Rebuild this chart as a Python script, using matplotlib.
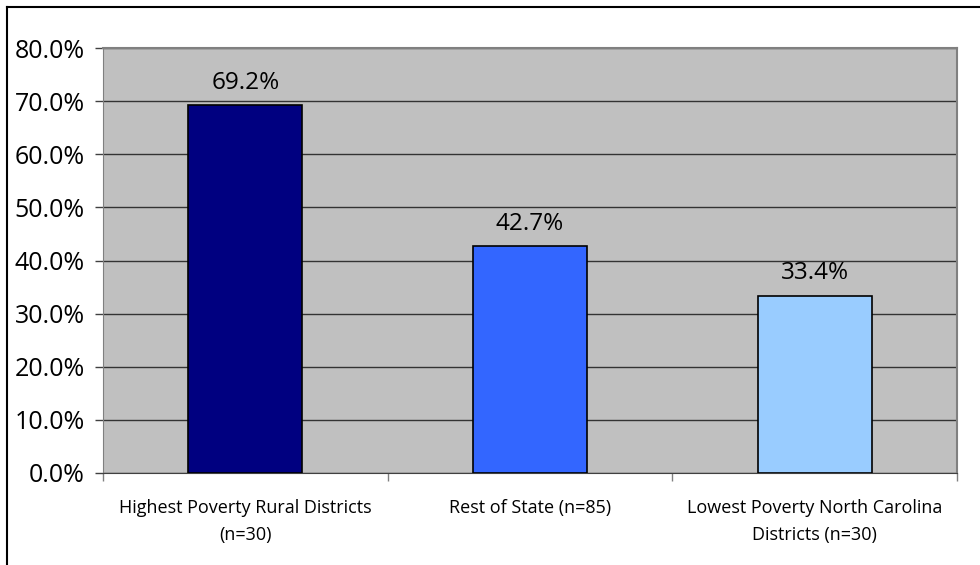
import matplotlib
matplotlib.use('Agg')
import matplotlib.pyplot as plt
from matplotlib.lines import Line2D
import numpy as np

# data
categories = ['Highest Poverty Rural Districts\n(n=30)',
              'Rest of State (n=85)',
              'Lowest Poverty North Carolina\nDistricts (n=30)']
values = [69.2, 42.7, 33.4]
bar_colors = ['#000080', '#3366FF', '#99CCFF']

plt.rcParams['font.family'] = ['Open Sans', 'DejaVu Sans']

fig = plt.figure(figsize=(9.8, 5.65), dpi=100)
ax = fig.add_axes([103 / 980, 1 - 473 / 565, 854 / 980, 425 / 565])
ax.set_facecolor('#C0C0C0')

x = np.arange(len(values))
ax.bar(x, values, width=0.4, color=bar_colors, edgecolor='black', linewidth=1.2, zorder=3)

# value labels
for xi, v in zip(x, values):
    ax.text(xi, v + 2.0, '%.1f%%' % v, ha='center', va='bottom', fontsize=17.5, color='black', zorder=4)

ax.set_xlim(-0.5, 2.5)
ax.set_ylim(0, 80)
ax.set_yticks(np.arange(0, 81, 10))
ax.set_yticklabels(['%.1f%%' % t for t in np.arange(0, 81, 10)], fontsize=18)
ax.yaxis.grid(True, color='#333333', linewidth=1, zorder=1)
ax.set_axisbelow(True)

# category labels + boundary ticks
ax.set_xticks(x)
ax.set_xticklabels(categories, fontsize=13, linespacing=1.6)
ax.tick_params(axis='x', length=0, pad=19)
ax.set_xticks([-0.5, 0.5, 1.5, 2.5], minor=True)
ax.tick_params(axis='x', which='minor', length=6, color='#808080', width=1)
ax.tick_params(axis='y', length=6, color='#404040', width=1, pad=7)

for s in ['top', 'right']:
    ax.spines[s].set_color('#808080')
    ax.spines[s].set_linewidth(1.5)
ax.spines['left'].set_color('#808080')
ax.spines['bottom'].set_color('#404040')

# figure border (left and top only)
fig.add_artist(Line2D([7 / 980, 7 / 980], [0, 1 - 7 / 565], color='black', linewidth=1.5, transform=fig.transFigure))
fig.add_artist(Line2D([7 / 980, 1], [1 - 7 / 565, 1 - 7 / 565], color='black', linewidth=1.5, transform=fig.transFigure))

fig.savefig('out.png', dpi=100)
